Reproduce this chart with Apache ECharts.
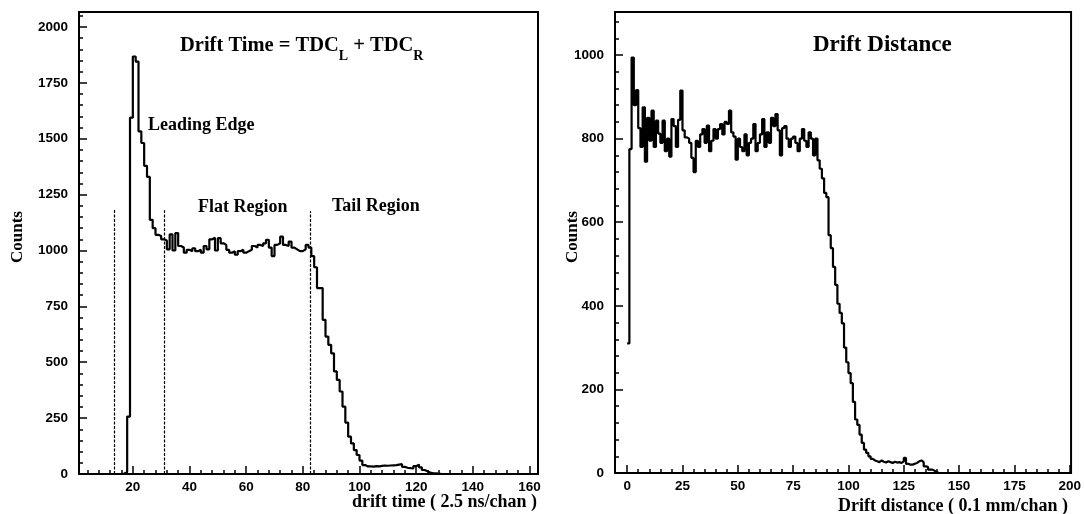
<!DOCTYPE html>
<html>
<head>
<meta charset="utf-8">
<script src="https://cdn.jsdelivr.net/npm/echarts@6/dist/echarts.min.js"></script>
<style>
  html, body { margin: 0; padding: 0; background: #fff; }
  #main { width: 1084px; height: 514px; }
</style>
</head>
<body>
<div id="main"></div>
<script>
// drift time histogram, one count per channel starting at channel 1
const timeFirstBin = 1;
const timeCounts = [
    0, 0, 0, 0, 0, 0, 0, 0, 0, 0, 0, 0, 0, 0, 0, 2, 8,            // 1-17
    257, 1594, 1868, 1845, 1533, 1481, 1379, 1329, 1137, 1100,     // 18-27
    1070, 1065, 1050, 1045, 1005, 1072, 1000, 1078, 1020, 1013,    // 28-37
    990, 1003, 997, 1010, 997, 1003, 990, 1020, 1005, 1050,        // 38-47
    1057, 1000, 1055, 1032, 1025, 1003, 990, 997, 981, 997,        // 48-57
    1003, 990, 997, 1003, 1020, 1013, 1025, 1020, 1032, 1048,      // 58-67
    1013, 975, 1025, 1032, 1062, 1025, 1020, 1040, 1013, 1005,     // 68-77
    997, 997, 1005, 1025, 1013, 975, 925, 832, 832, 690,           // 78-87
    615, 578, 540, 459, 421, 369, 301, 230, 167, 137,              // 88-97
    107, 85, 60, 40, 34, 34, 33, 35, 34, 36,                       // 98-107
    38, 37, 38, 39, 40, 42, 44, 32, 28, 26,                        // 108-117
    25, 35, 42, 30, 18, 12, 6, 3, 3, 2, 0                          // 118-128
];
// dashed region markers on the drift time plot
const markerX = [13.5, 31.2, 82.7];
const markerTop = [1185, 1180, 1175];

// drift distance histogram, starting at channel 0
const distFirstBin = 0;
const distCounts = [
    310, 775, 994, 880, 916, 825, 780, 875, 745, 850,     // 0-9
    795, 867, 780, 843, 812, 790, 843, 770, 800, 757,     // 10-19
    847, 830, 780, 845, 915, 820, 803, 800, 790, 754,     // 20-29
    720, 795, 780, 810, 823, 790, 831, 770, 795, 823,     // 30-39
    800, 823, 835, 810, 840, 835, 867, 815, 805, 750,     // 40-49
    800, 780, 770, 810, 760, 790, 800, 835, 770, 790,     // 50-59
    810, 847, 780, 815, 790, 850, 830, 859, 820, 760,     // 60-69
    825, 830, 800, 780, 800, 805, 790, 770, 800, 823,     // 70-79
    795, 780, 815, 800, 760, 800, 748, 728, 705, 670,     // 80-89
    660, 569, 538, 493, 450, 405, 383, 358, 300, 265,     // 90-99
    239, 215, 170, 128, 115, 92, 72, 56, 48, 40,          // 100-109
    34, 30, 28, 26, 30, 27, 25, 28, 26, 24,               // 110-119
    27, 25, 26, 24, 28, 36, 22, 20, 20, 22,               // 120-129
    24, 28, 30, 26, 16, 14, 8, 8, 5, 2, 0                 // 130-140
];

// tick labels
const timeTicks = [20, 40, 60, 80, 100, 120, 140, 160];
const distTicks = [0, 25, 50, 75, 100, 125, 150, 175, 200];
const timeCountTicks = [0, 250, 500, 750, 1000, 1250, 1500, 1750, 2000];
const distCountTicks = [0, 200, 400, 600, 800, 1000];

function minorList(from, to, step, majors) {
    let out = [];
    for (let v = from; v <= to; v += step) {
        if (majors.indexOf(v) < 0) out.push(v);
    }
    return out;
}

function histData(first, counts) {
    let pts = counts.map((c, i) => [first + i, c]);
    pts.push([first + counts.length, counts[counts.length - 1]]);
    return pts;
}

const tickFont = {
    fontFamily: 'Liberation Sans',
    fontWeight: 'bold',
    fontSize: 13.5,
    color: '#000'
};
const serif = 'Liberation Serif';

function majorAxis(grid, min, max, ticks, labelMargin, position) {
    return {
        type: 'value', gridIndex: grid, min: min, max: max, position: position,
        axisLine: { show: false, onZero: false },
        axisTick: { show: true, inside: true, length: 8, customValues: ticks,
            lineStyle: { color: '#000', width: 1.5 } },
        axisLabel: Object.assign({ customValues: ticks, margin: labelMargin,
            formatter: v => String(v) }, tickFont),
        splitLine: { show: false }
    };
}

function minorAxis(grid, min, max, ticks, position) {
    return {
        type: 'value', gridIndex: grid, min: min, max: max, position: position,
        axisLine: { show: false, onZero: false },
        axisTick: { show: true, inside: true, length: 4, customValues: ticks,
            lineStyle: { color: '#000', width: 1.5 } },
        axisLabel: { show: false },
        splitLine: { show: false }
    };
}

const chart = echarts.init(document.getElementById('main'), null, { renderer: 'canvas' });

const option = {
    backgroundColor: '#fff',
    animation: false,
    grid: [
        { left: 79, top: 12, width: 459, height: 462, show: true,
          borderColor: '#000', borderWidth: 2, backgroundColor: 'transparent' },
        { left: 615, top: 12, width: 458, height: 461, show: true,
          borderColor: '#000', borderWidth: 2, backgroundColor: 'transparent' }
    ],
    xAxis: [
        majorAxis(0, 1, 163, timeTicks, 6, 'bottom'),
        minorAxis(0, 1, 163, minorList(4, 160, 4, timeTicks), 'bottom'),
        majorAxis(1, -5.5, 200.6, distTicks, 6, 'bottom'),
        minorAxis(1, -5.5, 200.6, minorList(5, 195, 5, distTicks), 'bottom')
    ],
    yAxis: [
        majorAxis(0, 0, 2067, timeCountTicks, 11, 'left'),
        minorAxis(0, 0, 2067, minorList(50, 2050, 50, timeCountTicks), 'left'),
        majorAxis(1, 0, 1103, distCountTicks, 11, 'left'),
        minorAxis(1, 0, 1103, minorList(40, 1080, 40, distCountTicks), 'left')
    ],
    series: [
        {
            type: 'line', xAxisIndex: 0, yAxisIndex: 0, step: 'end',
            symbol: 'none', data: histData(timeFirstBin, timeCounts),
            lineStyle: { color: '#000', width: 2.2 },
            markLine: {
                silent: true, symbol: ['none', 'none'],
                label: { show: false },
                lineStyle: { color: '#000', width: 1.2, type: [3, 1.5] },
                data: markerX.map((x, i) => [
                    { coord: [x, 0] }, { coord: [x, markerTop[i]] }
                ])
            }
        },
        {
            type: 'line', xAxisIndex: 2, yAxisIndex: 2, step: 'end',
            symbol: 'none', data: histData(distFirstBin, distCounts),
            lineStyle: { color: '#000', width: 2.2 }
        }
    ],
    graphic: [
        { type: 'text', x: 180, y: 46, style: {
            text: '{a|Drift Time = TDC}{s|L}{a| + TDC}{s|R}',
            verticalAlign: 'middle', align: 'left',
            rich: {
                a: { fontFamily: serif, fontWeight: 'bold', fontSize: 20.5, lineHeight: 34, fill: '#000' },
                s: { fontFamily: serif, fontWeight: 'bold', fontSize: 14, lineHeight: 14,
                     verticalAlign: 'bottom', fill: '#000' }
            }
        } },
        { type: 'text', x: 813, y: 44.7, style: {
            text: 'Drift Distance', font: 'bold 23px "Liberation Serif"',
            fill: '#000', verticalAlign: 'middle', align: 'left' } },
        { type: 'text', x: 148, y: 125.2, style: {
            text: 'Leading Edge', font: 'bold 18px "Liberation Serif"',
            fill: '#000', verticalAlign: 'middle', align: 'left' } },
        { type: 'text', x: 198, y: 207.5, style: {
            text: 'Flat Region', font: 'bold 18px "Liberation Serif"',
            fill: '#000', verticalAlign: 'middle', align: 'left' } },
        { type: 'text', x: 332, y: 206.2, style: {
            text: 'Tail Region', font: 'bold 18px "Liberation Serif"',
            fill: '#000', verticalAlign: 'middle', align: 'left' } },
        { type: 'text', x: 18, y: 237, rotation: Math.PI / 2, style: {
            text: 'Counts', font: 'bold 17px "Liberation Serif"',
            fill: '#000', verticalAlign: 'middle', align: 'center' } },
        { type: 'text', x: 573, y: 237, rotation: Math.PI / 2, style: {
            text: 'Counts', font: 'bold 17px "Liberation Serif"',
            fill: '#000', verticalAlign: 'middle', align: 'center' } },
        { type: 'text', x: 537, y: 502.5, style: {
            text: 'drift time ( 2.5 ns/chan )', font: 'bold 18px "Liberation Serif"',
            fill: '#000', verticalAlign: 'middle', align: 'right' } },
        { type: 'text', x: 1068, y: 506, style: {
            text: 'Drift distance ( 0.1 mm/chan )', font: 'bold 18px "Liberation Serif"',
            fill: '#000', verticalAlign: 'middle', align: 'right' } }
    ]
};

chart.setOption(option);
</script>
</body>
</html>
